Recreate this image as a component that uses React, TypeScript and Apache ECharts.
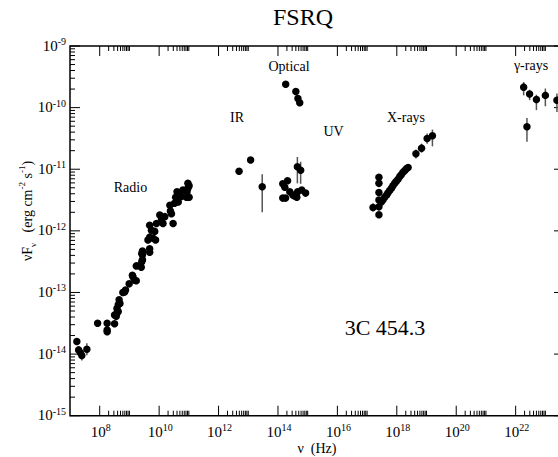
import { useEffect, useRef } from 'react';
import * as echarts from 'echarts';

// ---- data (frequency in Hz, nuFnu in erg cm^-2 s^-1) ----
const radioNu = [
  1.7e7, 1.95e7, 2.24e7, 8.5e7, 1.78e8, 1.78e8, 1.78e8, 3.16e8, 3.16e8, 3.6e8,
  3.8e8, 3.8e8, 4.2e8, 4.2e8, 4.5e8, 4.8e8, 6.0e8, 6.9e8, 7.4e8, 9.8e8,
  1.26e9, 1.32e9, 1.5e9, 1.7e9, 1.7e9, 2.24e9, 2.5e9, 2.6e9, 2.6e9, 2.75e9,
  2.75e9, 2.75e9, 4.2e9, 4.8e9, 4.8e9, 4.8e9, 4.8e9, 5.5e9, 6.2e9, 7.1e9,
  7.6e9, 8.1e9, 1.05e10, 1.2e10, 1.35e10, 1.55e10, 2.3e10, 2.4e10, 2.6e10, 2.95e10,
  3.3e10, 3.6e10, 4.0e10, 4.4e10, 4.9e10, 5.6e10, 6.3e10, 8.3e10, 8.7e10, 9.3e10,
  9.3e10, 1.02e11, 1.02e11,
];
const radioF = [
  1.6e-14, 1.17e-14, 1.05e-14, 3.16e-14, 3.16e-14, 2.45e-14, 2.3e-14, 3.1e-14, 4.3e-14, 4.1e-14,
  4.6e-14, 5.5e-14, 6.3e-14, 4.9e-14, 7.6e-14, 6.6e-14, 1.0e-13, 1.02e-13, 1.1e-13, 1.38e-13,
  1.9e-13, 1.78e-13, 1.58e-13, 1.55e-13, 2.7e-13, 2.75e-13, 2.57e-13, 3.16e-13, 4.3e-13, 3.4e-13,
  4.1e-13, 4.7e-13, 7.1e-13, 4.5e-13, 5.1e-13, 7.9e-13, 1.23e-12, 1.02e-12, 7.6e-13, 9.8e-13,
  7.1e-13, 1.32e-12, 1.8e-12, 1.55e-12, 1.32e-12, 1.7e-12, 2.6e-12, 2.1e-12, 1.9e-12, 1.32e-12,
  2.8e-12, 3.5e-12, 4.3e-12, 2.95e-12, 4.1e-12, 3.6e-12, 4.6e-12, 3.5e-12, 4.3e-12, 4.9e-12,
  5.9e-12, 5.4e-12, 3.5e-12,
];
const irNu = [4.9e12, 1.2e13];
const irF = [9.3e-12, 1.41e-11];
const opticalNu = [
  1.82e14, 4.0e14, 4.7e14, 5.4e14, 1.45e14, 2.1e14, 1.7e14, 2.5e14, 1.45e14, 1.8e14,
  3.2e14, 4.3e14, 6.3e14, 8.5e14, 4.6e14, 3.5e14,
];
const opticalF = [
  2.4e-10, 1.82e-10, 1.41e-10, 1.2e-10, 5.8e-12, 6.5e-12, 5.1e-12, 4.3e-12, 3.4e-12, 3.4e-12,
  3.8e-12, 3.5e-12, 4.6e-12, 4.1e-12, 4.3e-12, 3.7e-12,
];
const xrayNu = [
  2.5e17, 2.5e17, 2.5e17, 2.5e17, 2.5e17, 2.5e17, 3.0e17, 3.4e17, 3.9e17, 4.5e17,
  5.0e17, 5.75e17, 6.6e17, 7.4e17, 8.5e17, 9.5e17, 1.1e18, 1.26e18, 1.41e18, 1.62e18,
  1.86e18, 2.1e18, 2.4e18,
];
const xrayF = [
  1.82e-12, 2.45e-12, 3.16e-12, 4.2e-12, 5.9e-12, 7.4e-12, 2.95e-12, 3.16e-12, 3.5e-12, 3.8e-12,
  4.1e-12, 4.5e-12, 4.9e-12, 5.4e-12, 5.9e-12, 6.3e-12, 6.9e-12, 7.6e-12, 8.1e-12, 8.9e-12,
  9.5e-12, 1.02e-11, 1.07e-11,
];
// points with vertical error bars
const errNu = [
  2.5e7, 3.7e7, 2.95e13, 4.5e14, 5.8e14, 1.58e17, 4.4e18, 6.8e18, 1.05e19, 1.58e19,
  1.86e22, 2.95e22, 5.0e22, 1.0e23, 2.45e23, 2.4e22,
];
const errF = [
  9.5e-15, 1.2e-14, 5.2e-12, 1.1e-11, 9.6e-12, 2.4e-12, 1.78e-11, 2.2e-11, 3.16e-11, 3.5e-11,
  2.15e-10, 1.66e-10, 1.35e-10, 1.58e-10, 1.32e-10, 4.9e-11,
];
const errLo = [
  7.9e-15, 9.6e-15, 2.0e-12, 5.9e-12, 5.8e-12, 2.06e-12, 1.5e-11, 1.85e-11, 2.6e-11, 2.35e-11,
  1.58e-10, 1.32e-10, 9.1e-11, 1.05e-10, 8.5e-11, 2.8e-11,
];
const errHi = [
  1.14e-14, 1.5e-14, 8.3e-12, 1.58e-11, 1.32e-11, 2.8e-12, 2.1e-11, 2.6e-11, 3.8e-11, 4.4e-11,
  2.6e-10, 1.95e-10, 1.62e-10, 2.04e-10, 1.7e-10, 6.8e-11,
];

// axis ranges and tick labels (exponents)
const X_MIN = 1e7;
const X_MAX = 4.24e23;
const Y_MIN = 1e-15;
const Y_MAX = 1e-9;
const xLabelExp = [8, 10, 12, 14, 16, 18, 20, 22];
const yLabelExp = [-15, -14, -13, -12, -11, -10, -9];
const minorMult = [2, 3, 4, 5, 6, 7, 8, 9];

const annotations = [
  { text: 'Radio', x: 130.5, y: 187.5, size: 14 },
  { text: 'IR', x: 237, y: 117, size: 14 },
  { text: 'Optical', x: 289, y: 66, size: 14 },
  { text: 'UV', x: 333.5, y: 131, size: 14 },
  { text: 'X-rays', x: 406, y: 117.5, size: 14 },
  { text: 'γ-rays', x: 531, y: 65, size: 14 },
  { text: '3C 454.3', x: 385, y: 327, size: 22 },
];

const FONT = '"Liberation Serif", "Times New Roman", serif';

export default function App() {
  const ref = useRef<HTMLDivElement>(null);
  useEffect(() => {
    if (!ref.current) return;
    const chart = echarts.init(ref.current, undefined, { renderer: 'svg' });

    const points: number[][] = [];
    radioNu.forEach((v, i) => points.push([v, radioF[i]]));
    irNu.forEach((v, i) => points.push([v, irF[i]]));
    opticalNu.forEach((v, i) => points.push([v, opticalF[i]]));
    xrayNu.forEach((v, i) => points.push([v, xrayF[i]]));
    errNu.forEach((v, i) => points.push([v, errF[i]]));
    const errData = errNu.map((v, i) => [v, errLo[i], errHi[i]]);

    const MAJ = 10;
    const MIN = 5;
    const xTicks: number[][] = [];
    xLabelExp.forEach((e) => {
      xTicks.push([Math.pow(10, e), Y_MIN, MAJ]);
      minorMult.concat([10]).forEach((k) => xTicks.push([k * Math.pow(10, e), Y_MIN, MIN]));
    });
    const yTicks: number[][] = [];
    yLabelExp.forEach((e) => {
      yTicks.push([X_MIN, Math.pow(10, e), MAJ]);
      if (e < -9) minorMult.forEach((k) => yTicks.push([X_MIN, k * Math.pow(10, e), MIN]));
    });
    const xLabels = xLabelExp.map((e) => [Math.pow(10, e), Y_MIN, e]);
    const yLabels = yLabelExp.map((e) => [X_MIN, Math.pow(10, e), e]);

    const rich = {
      b: { fontSize: 15, fontFamily: FONT, lineHeight: 18, fill: '#000' },
      s: { fontSize: 10, fontFamily: FONT, lineHeight: 8, verticalAlign: 'top', fill: '#000' },
    };

    const option: any = {
      animation: false,
      grid: {
        left: 70,
        right: 2,
        top: 46,
        bottom: 41.3,
        show: true,
        borderColor: '#000',
        borderWidth: 1.5,
        backgroundColor: 'transparent',
      },
      xAxis: {
        type: 'log',
        logBase: 10,
        min: X_MIN,
        max: X_MAX,
        axisLine: { show: false },
        axisTick: { show: false },
        axisLabel: { show: false },
        splitLine: { show: false },
      },
      yAxis: {
        type: 'log',
        logBase: 10,
        min: Y_MIN,
        max: Y_MAX,
        axisLine: { show: false },
        axisTick: { show: false },
        axisLabel: { show: false },
        splitLine: { show: false },
      },
      graphic: [
        {
          type: 'text',
          x: 303,
          y: 17,
          style: { text: 'FSRQ', fontFamily: FONT, fontSize: 24, fill: '#000', align: 'center', verticalAlign: 'middle' },
        },
        {
          type: 'text',
          x: 317,
          y: 448,
          style: { text: 'ν  (Hz)', fontFamily: FONT, fontSize: 14, fill: '#000', align: 'center', verticalAlign: 'middle' },
        },
        {
          type: 'text',
          x: 27,
          y: 211,
          rotation: Math.PI / 2,
          style: {
            text: '{a|νF}{sub|ν}{a|   (erg cm}{sup|-2}{a| s}{sup|-1}{a|)}',
            align: 'center',
            verticalAlign: 'middle',
            rich: {
              a: { fontSize: 14, fontFamily: FONT, lineHeight: 20, fill: '#000' },
              sub: { fontSize: 9, fontFamily: FONT, lineHeight: 10, verticalAlign: 'bottom', fill: '#000' },
              sup: { fontSize: 9, fontFamily: FONT, lineHeight: 9, verticalAlign: 'top', fill: '#000' },
            },
          },
        },
        ...annotations.map((a) => ({
          type: 'text',
          x: a.x,
          y: a.y,
          style: { text: a.text, fontFamily: FONT, fontSize: a.size, fill: '#000', align: 'center', verticalAlign: 'middle' },
        })),
      ],
      series: [
        {
          type: 'custom',
          name: 'xticks',
          silent: true,
          data: xTicks,
          encode: { x: 0, y: 1 },
          renderItem: (_p: any, api: any) => {
            const v = api.value(0);
            const len = api.value(2);
            const b = api.coord([v, Y_MIN]);
            const t = api.coord([v, Y_MAX]);
            return {
              type: 'group',
              children: [
                { type: 'line', shape: { x1: b[0], y1: b[1], x2: b[0], y2: b[1] - len }, style: { stroke: '#000', lineWidth: 1 } },
                { type: 'line', shape: { x1: t[0], y1: t[1], x2: t[0], y2: t[1] + len }, style: { stroke: '#000', lineWidth: 1 } },
              ],
            };
          },
        },
        {
          type: 'custom',
          name: 'yticks',
          silent: true,
          data: yTicks,
          encode: { x: 0, y: 1 },
          renderItem: (_p: any, api: any) => {
            const v = api.value(1);
            const len = api.value(2);
            const l = api.coord([X_MIN, v]);
            const r = api.coord([X_MAX, v]);
            return {
              type: 'group',
              children: [
                { type: 'line', shape: { x1: l[0], y1: l[1], x2: l[0] + len, y2: l[1] }, style: { stroke: '#000', lineWidth: 1 } },
                { type: 'line', shape: { x1: r[0], y1: r[1], x2: r[0] - len, y2: r[1] }, style: { stroke: '#000', lineWidth: 1 } },
              ],
            };
          },
        },
        {
          type: 'custom',
          name: 'xlabels',
          silent: true,
          data: xLabels,
          encode: { x: 0, y: 1 },
          renderItem: (_p: any, api: any) => {
            const p = api.coord([api.value(0), api.value(1)]);
            return {
              type: 'text',
              x: p[0] + 1,
              y: p[1] + 7,
              style: { text: `{b|10}{s|${api.value(2)}}`, rich, align: 'center', verticalAlign: 'top' },
            };
          },
        },
        {
          type: 'custom',
          name: 'ylabels',
          silent: true,
          data: yLabels,
          encode: { x: 0, y: 1 },
          renderItem: (_p: any, api: any) => {
            const p = api.coord([api.value(0), api.value(1)]);
            return {
              type: 'text',
              x: p[0] - 4,
              y: p[1] - 0.5,
              style: { text: `{b|10}{s|${api.value(2)}}`, rich, align: 'right', verticalAlign: 'middle' },
            };
          },
        },
        {
          type: 'custom',
          name: 'errors',
          silent: true,
          data: errData,
          encode: { x: 0, y: [1, 2] },
          renderItem: (_p: any, api: any) => {
            const lo = api.coord([api.value(0), api.value(1)]);
            const hi = api.coord([api.value(0), api.value(2)]);
            return {
              type: 'line',
              shape: { x1: lo[0], y1: lo[1], x2: hi[0], y2: hi[1] },
              style: { stroke: '#555', lineWidth: 1.5 },
            };
          },
        },
        {
          type: 'scatter',
          name: 'SED',
          data: points,
          symbol: 'circle',
          symbolSize: 7.5,
          itemStyle: { color: '#000', opacity: 1 },
          z: 5,
        },
      ],
    };
    chart.setOption(option);
    return () => chart.dispose();
  }, []);
  return (
    <div style={{ position: 'fixed', left: 0, top: 0, width: 558, height: 457, overflow: 'hidden', background: '#fff' }}>
      <div ref={ref} style={{ width: 566, height: 457 }} />
    </div>
  );
}
